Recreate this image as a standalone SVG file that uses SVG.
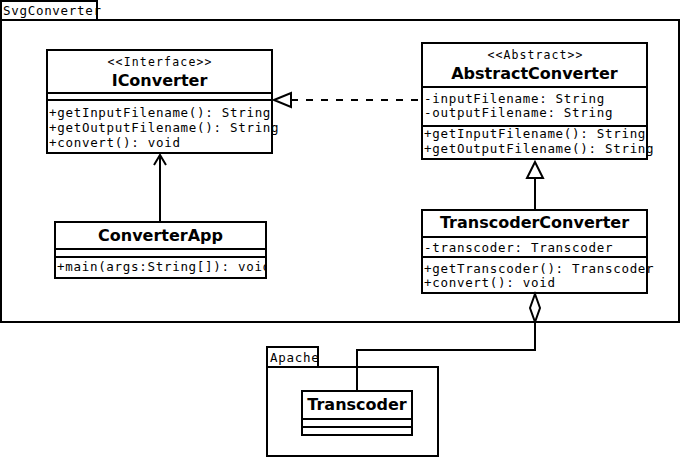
<svg xmlns="http://www.w3.org/2000/svg" width="681" height="457" viewBox="0 0 681 457">
<style>
.b{fill:#fff;stroke:#000;stroke-width:2}
.l{fill:none;stroke:#000;stroke-width:2}
.m{font-family:"DejaVu Sans Mono",monospace;font-size:12.5px;letter-spacing:0.7px;fill:#000}
.s{font-family:"DejaVu Sans Mono",monospace;font-size:11.5px;fill:#000;text-anchor:middle}
.n{font-family:"DejaVu Sans",sans-serif;font-size:16px;font-weight:bold;fill:#000;text-anchor:middle}
</style>
<defs>
<clipPath id="cApp"><rect x="56" y="257" width="209" height="20"/></clipPath>
</defs>
<rect width="681" height="457" fill="#fff"/>
<g id="pkg-svgconverter">
<rect class="b" x="1" y="1" width="96" height="19"/>
<rect class="b" x="1" y="20" width="678" height="302"/>
<text class="m" x="3" y="15">SvgConverter</text>
</g>
<g id="pkg-apache">
<rect class="b" x="267" y="347" width="51" height="20"/>
<rect class="b" x="267" y="367" width="171" height="89"/>
<text class="m" x="270" y="362">Apache</text>
</g>
<g id="IConverter">
<rect class="b" x="47" y="50" width="225" height="103"/>
<line class="l" x1="47" y1="93" x2="272" y2="93"/>
<line class="l" x1="47" y1="100" x2="272" y2="100"/>
<text class="s" x="159.5" y="66" textLength="104">&lt;&lt;Interface&gt;&gt;</text>
<text class="n" x="159.5" y="86">IConverter</text>
<text class="m" x="49" y="117">+getInputFilename(): String</text>
<text class="m" x="49" y="132">+getOutputFilename(): String</text>
<text class="m" x="49" y="147">+convert(): void</text>
</g>
<g id="AbstractConverter">
<rect class="b" x="422" y="43" width="225" height="116"/>
<line class="l" x1="422" y1="87" x2="647" y2="87"/>
<line class="l" x1="422" y1="126" x2="647" y2="126"/>
<text class="s" x="535" y="59" textLength="95">&lt;&lt;Abstract&gt;&gt;</text>
<text class="n" x="534.5" y="79">AbstractConverter</text>
<text class="m" x="424" y="102.5">-inputFilename: String</text>
<text class="m" x="424" y="117">-outputFilename: String</text>
<text class="m" x="424" y="138">+getInputFilename(): String</text>
<text class="m" x="424" y="153">+getOutputFilename(): String</text>
</g>
<g id="ConverterApp">
<rect class="b" x="55" y="222" width="211" height="56"/>
<line class="l" x1="55" y1="249" x2="266" y2="249"/>
<line class="l" x1="55" y1="257" x2="266" y2="257"/>
<text class="n" x="160.5" y="241">ConverterApp</text>
<text class="m" x="57" y="271" clip-path="url(#cApp)">+main(args:String[]): void</text>
</g>
<g id="TranscoderConverter">
<rect class="b" x="422" y="210" width="225" height="83"/>
<line class="l" x1="422" y1="237" x2="647" y2="237"/>
<line class="l" x1="422" y1="257" x2="647" y2="257"/>
<text class="n" x="534.5" y="228">TranscoderConverter</text>
<text class="m" x="424" y="252">-transcoder: Transcoder</text>
<text class="m" x="424" y="273">+getTranscoder(): Transcoder</text>
<text class="m" x="424" y="287">+convert(): void</text>
</g>
<g id="Transcoder">
<rect class="b" x="302" y="391" width="110" height="44"/>
<line class="l" x1="302" y1="419" x2="412" y2="419"/>
<line class="l" x1="302" y1="427" x2="412" y2="427"/>
<text class="n" x="357" y="410">Transcoder</text>
</g>
<g id="connectors">
<line class="l" x1="291" y1="100" x2="422" y2="100" stroke-dasharray="7,8"/>
<polygon class="b" points="274,100 291,93 291,107"/>
<line class="l" x1="160" y1="222" x2="160" y2="155"/>
<polyline class="l" points="154,165 160,155 166,165"/>
<line class="l" x1="535" y1="178" x2="535" y2="210"/>
<polygon class="b" points="535,162 527,178 543,178"/>
<polyline class="l" points="535,322 535,350 357,350 357,391"/>
<polygon class="b" points="535,294 540,308 535,322 530,308"/>
</g>
</svg>
